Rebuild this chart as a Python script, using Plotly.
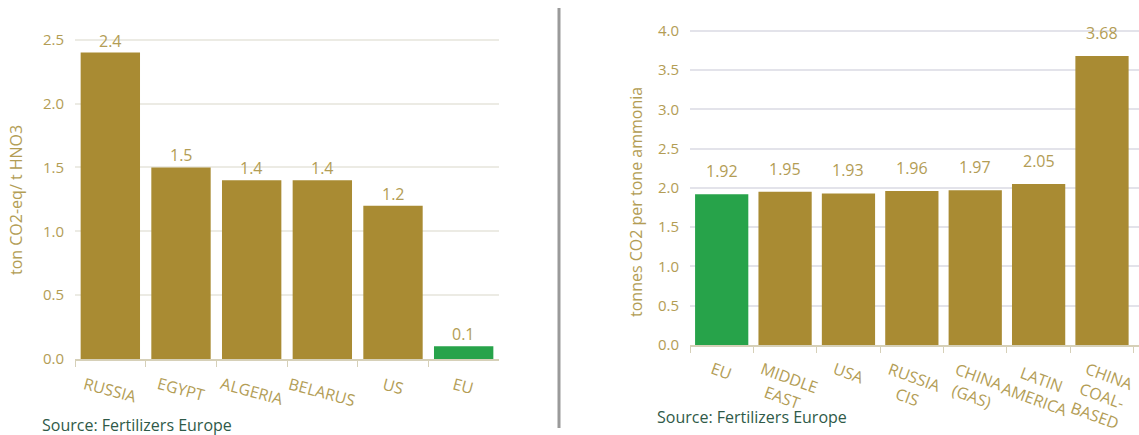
import plotly.graph_objects as go

# Nitric acid production emissions (left panel)
hno3_regions = ["RUSSIA", "EGYPT", "ALGERIA", "BELARUS", "US", "EU"]
hno3_values = [2.4, 1.5, 1.4, 1.4, 1.2, 0.1]

# Ammonia production emissions (right panel)
nh3_regions = ["EU", "MIDDLE<br>EAST", "USA", "RUSSIA<br>CIS", "CHINA<br>(GAS)",
               "LATIN<br>AMERICA", "CHINA<br>COAL-<br>BASED"]
nh3_values = [1.92, 1.95, 1.93, 1.96, 1.97, 2.05, 3.68]

GOLD = "#a98b33"
GREEN = "#27a34a"
LABEL = "#b39d55"
SOURCE = "#2f5a48"
FONT = "Open Sans, Noto Sans, sans-serif"

H = 435
W = 1139


def colors(regions):
    return [GREEN if r == "EU" else GOLD for r in regions]


def py(px):
    """Convert a pixel row (from the top) into paper coordinates."""
    return (H - px) / H


fig = go.Figure()

fig.add_trace(go.Bar(
    x=hno3_regions, y=hno3_values, marker_color=colors(hno3_regions),
    xaxis="x", yaxis="y", showlegend=False,
))
fig.add_trace(go.Bar(
    x=nh3_regions, y=nh3_values, marker_color=colors(nh3_regions),
    xaxis="x2", yaxis="y2", showlegend=False,
))

xcommon = dict(
    type="category", showgrid=False, showline=True, linecolor="#d6d0b8",
    linewidth=1.5, ticks="outside", tickson="boundaries", ticklen=6,
    tickcolor="#d6d0b8", showticklabels=False, automargin=False,
    fixedrange=True,
)
ycommon = dict(
    showgrid=True, gridwidth=1.5, zeroline=False, showline=False,
    tickfont=dict(color=LABEL, size=15, family=FONT), ticks="",
    ticklabelstandoff=10, automargin=False, fixedrange=True,
)

fig.update_layout(
    template="none",
    width=W, height=H,
    margin=dict(l=0, r=0, t=0, b=0),
    paper_bgcolor="white", plot_bgcolor="white",
    bargap=0.16,
    font=dict(family=FONT),
    xaxis=dict(domain=[75 / W, 499 / W], anchor="y", **xcommon),
    yaxis=dict(domain=[py(359), py(27)], anchor="x",
               range=[0, 2.6], dtick=0.5, tickformat=".1f",
               gridcolor="#ecebe4", **ycommon),
    xaxis2=dict(domain=[690 / W, 1.0], anchor="y2", **xcommon),
    yaxis2=dict(domain=[py(345), py(23)], anchor="x2",
                range=[0, 4.1], dtick=0.5, tickformat=".1f",
                gridcolor="#e3e3ea", **ycommon),
)

# Value labels above the bars
for r, v in zip(hno3_regions, hno3_values):
    fig.add_annotation(text=f"{v:.1f}", xref="x", yref="y", x=r, y=v,
                       xanchor="center", yanchor="middle", yshift=12,
                       showarrow=False,
                       font=dict(color=LABEL, size=16, family=FONT))
for r, v in zip(nh3_regions, nh3_values):
    fig.add_annotation(text=f"{v:.2f}", xref="x2", yref="y2", x=r, y=v,
                       xanchor="center", yanchor="middle", yshift=23,
                       showarrow=False,
                       font=dict(color=LABEL, size=16, family=FONT))

# Rotated category labels, centred under each bar
for r in hno3_regions:
    fig.add_annotation(text=r, xref="x", yref="paper", x=r, y=py(370),
                       xanchor="center", yanchor="top", textangle=15,
                       showarrow=False,
                       font=dict(color=LABEL, size=16, family=FONT))
for r in nh3_regions:
    fig.add_annotation(text=r, xref="x2", yref="paper", x=r, y=py(355),
                       xanchor="center", yanchor="top", textangle=20,
                       showarrow=False, align="center",
                       font=dict(color=LABEL, size=16, family=FONT))

# Axis titles
fig.add_annotation(text="ton CO2-eq/ t HNO3", xref="paper", yref="paper",
                   x=16 / W, y=py(200), textangle=-90, showarrow=False,
                   xanchor="center", yanchor="middle",
                   font=dict(color=LABEL, size=16, family=FONT))
fig.add_annotation(text="tonnes CO2 per tone ammonia", xref="paper", yref="paper",
                   x=636 / W, y=py(202), textangle=-90, showarrow=False,
                   xanchor="center", yanchor="middle",
                   font=dict(color=LABEL, size=16, family=FONT))

# Source notes
fig.add_annotation(text="Source: Fertilizers Europe", xref="paper", yref="paper",
                   x=40 / W, y=py(425), xanchor="left", yanchor="middle",
                   showarrow=False, font=dict(color=SOURCE, size=16, family=FONT))
fig.add_annotation(text="Source: Fertilizers Europe", xref="paper", yref="paper",
                   x=655 / W, y=py(417), xanchor="left", yanchor="middle",
                   showarrow=False, font=dict(color=SOURCE, size=16, family=FONT))

# Divider between the two panels
fig.add_shape(type="line", xref="paper", yref="paper",
              x0=559 / W, x1=559 / W, y0=py(428), y1=py(8),
              line=dict(color="#9a9a9a", width=3))

fig.write_html("out.html")
